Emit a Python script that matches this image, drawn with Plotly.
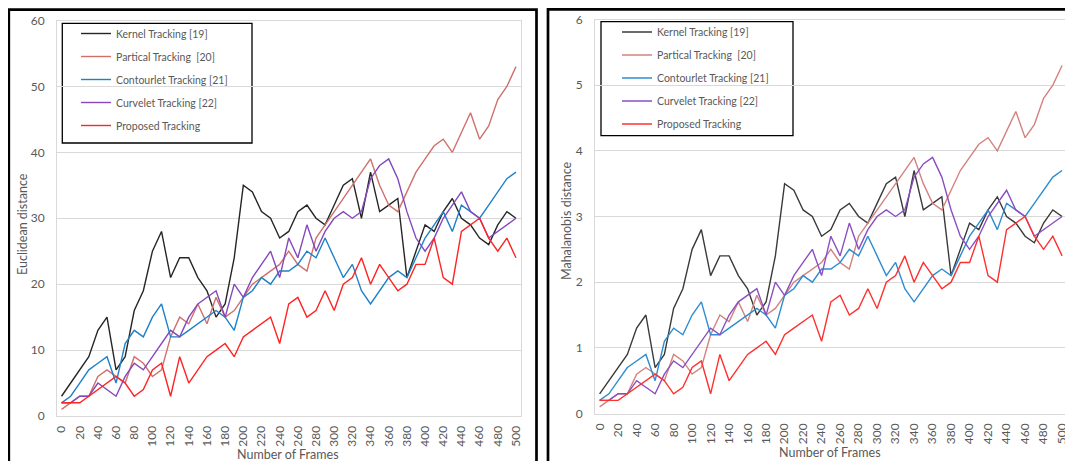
import plotly.graph_objects as go

# The page body has an 8px default margin; the figure is sized to fill the rest of the window.
OFF = 8
W, H = 1073 - OFF, 461 - OFF

frames = list(range(0, 501, 10))
series_names = ["Kernel Tracking [19]", "Partical Tracking  [20]", "Contourlet Tracking [21]",
                "Curvelet Tracking [22]", "Proposed Tracking"]

# Euclidean distance (left panel)
kernel_e = [3, 5, 7, 9, 13, 15, 7, 9, 16, 19, 25, 28, 21, 24, 24, 21, 19, 15, 17, 24,
            35, 34, 31, 30, 27, 28, 31, 32, 30, 29, 32, 35, 36, 30, 37, 31, 32, 33, 21, 25,
            29, 28, 31, 33, 30, 29, 27, 26, 29, 31, 30]
partical_e = [1, 2, 3, 3, 6, 7, 6, 5, 9, 8, 6, 7, 12, 15, 14, 17, 14, 18, 15, 16,
              18, 20, 21, 22, 23, 25, 23, 22, 27, 29, 31, 33, 35, 37, 39, 35, 32, 31, 34, 37,
              39, 41, 42, 40, 43, 46, 42, 44, 48, 50, 53]
contourlet_e = [2, 3, 5, 7, 8, 9, 5, 11, 13, 12, 15, 17, 12, 12, 13, 14, 15, 16, 15, 13,
                18, 19, 21, 20, 22, 22, 23, 25, 24, 27, 24, 21, 23, 19, 17, 19, 21, 22, 21, 24,
                27, 29, 31, 28, 32, 31, 30, 32, 34, 36, 37]
curvelet_e = [2, 2, 3, 3, 5, 4, 3, 6, 8, 7, 9, 11, 13, 12, 15, 17, 18, 19, 15, 20,
              18, 21, 23, 25, 21, 27, 24, 29, 25, 28, 30, 31, 30, 31, 36, 38, 39, 36, 31, 27,
              25, 27, 30, 32, 34, 31, 30, 27, 28, 29, 30]
proposed_e = [2, 2, 2, 3, 4, 5, 6, 5, 3, 4, 7, 8, 3, 9, 5, 7, 9, 10, 11, 9,
              12, 13, 14, 15, 11, 17, 18, 15, 16, 19, 16, 20, 21, 24, 20, 23, 21, 19, 20, 23,
              23, 27, 21, 20, 28, 29, 30, 27, 25, 27, 24]

# Mahalanobis distance (right panel)
kernel_m = [0.3, 0.5, 0.7, 0.9, 1.3, 1.5, 0.7, 0.9, 1.6, 1.9, 2.5, 2.8, 2.1, 2.4, 2.4, 2.1, 1.9, 1.5, 1.7, 2.4,
            3.5, 3.4, 3.1, 3.0, 2.7, 2.8, 3.1, 3.2, 3.0, 2.9, 3.2, 3.5, 3.6, 3.0, 3.7, 3.1, 3.2, 3.3, 2.1, 2.5,
            2.9, 2.8, 3.1, 3.3, 3.0, 2.9, 2.7, 2.6, 2.9, 3.1, 3.0]
partical_m = [0.1, 0.2, 0.3, 0.3, 0.6, 0.7, 0.6, 0.5, 0.9, 0.8, 0.6, 0.7, 1.2, 1.5, 1.4, 1.7, 1.4, 1.8, 1.5, 1.6,
              1.8, 2.0, 2.1, 2.2, 2.3, 2.5, 2.3, 2.2, 2.7, 2.9, 3.1, 3.3, 3.5, 3.7, 3.9, 3.5, 3.2, 3.1, 3.4, 3.7,
              3.9, 4.1, 4.2, 4.0, 4.3, 4.6, 4.2, 4.4, 4.8, 5.0, 5.3]
contourlet_m = [0.2, 0.3, 0.5, 0.7, 0.8, 0.9, 0.5, 1.1, 1.3, 1.2, 1.5, 1.7, 1.2, 1.2, 1.3, 1.4, 1.5, 1.6, 1.5, 1.3,
                1.8, 1.9, 2.1, 2.0, 2.2, 2.2, 2.3, 2.5, 2.4, 2.7, 2.4, 2.1, 2.3, 1.9, 1.7, 1.9, 2.1, 2.2, 2.1, 2.4,
                2.7, 2.9, 3.1, 2.8, 3.2, 3.1, 3.0, 3.2, 3.4, 3.6, 3.7]
curvelet_m = [0.2, 0.2, 0.3, 0.3, 0.5, 0.4, 0.3, 0.6, 0.8, 0.7, 0.9, 1.1, 1.3, 1.2, 1.5, 1.7, 1.8, 1.9, 1.5, 2.0,
              1.8, 2.1, 2.3, 2.5, 2.1, 2.7, 2.4, 2.9, 2.5, 2.8, 3.0, 3.1, 3.0, 3.1, 3.6, 3.8, 3.9, 3.6, 3.1, 2.7,
              2.5, 2.7, 3.0, 3.2, 3.4, 3.1, 3.0, 2.7, 2.8, 2.9, 3.0]
proposed_m = [0.2, 0.2, 0.2, 0.3, 0.4, 0.5, 0.6, 0.5, 0.3, 0.4, 0.7, 0.8, 0.3, 0.9, 0.5, 0.7, 0.9, 1.0, 1.1, 0.9,
              1.2, 1.3, 1.4, 1.5, 1.1, 1.7, 1.8, 1.5, 1.6, 1.9, 1.6, 2.0, 2.1, 2.4, 2.0, 2.3, 2.1, 1.9, 2.0, 2.3,
              2.3, 2.7, 2.1, 2.0, 2.8, 2.9, 3.0, 2.7, 2.5, 2.7, 2.4]

colors_left = ["#262626", "#D0706C", "#1F80C8", "#8448BE", "#FF2424"]
colors_right = ["#3A3A3A", "#D4827F", "#2E8CD0", "#8A4FC2", "#FF3030"]

FONT = "Lato, Carlito, Calibri, 'Open Sans', sans-serif"
GREY = "#595959"


def px(x):
    """screen pixel x -> paper fraction"""
    return (x - OFF) / W


def py(y):
    """screen pixel y -> paper fraction"""
    return 1 - (y - OFF) / H


fig = go.Figure()

left_data = [kernel_e, partical_e, contourlet_e, curvelet_e, proposed_e]
right_data = [kernel_m, partical_m, contourlet_m, curvelet_m, proposed_m]

for i, (name, ys) in enumerate(zip(series_names, left_data)):
    fig.add_trace(go.Scatter(x=frames, y=ys, mode="lines", name=name,
                             line=dict(color=colors_left[i], width=1.4),
                             xaxis="x", yaxis="y", legend="legend", legendgroup=f"L{i}"))
for i, (name, ys) in enumerate(zip(series_names, right_data)):
    fig.add_trace(go.Scatter(x=frames, y=ys, mode="lines", name=name,
                             line=dict(color=colors_right[i], width=1.4),
                             xaxis="x2", yaxis="y2", legend="legend2", legendgroup=f"R{i}"))

axis_common = dict(zeroline=False, showline=True, linecolor="#D9D9D9", linewidth=1, mirror=True,
                   automargin=False, tickfont=dict(family=FONT, size=12, color=GREY))
xaxis_common = dict(range=[-5, 505], dtick=20, tick0=0, tickangle=-90, showgrid=False,
                    ticks="", ticklabelstandoff=4, **axis_common)
yaxis_common = dict(showgrid=True, gridcolor="#D9D9D9", gridwidth=1, ticks="",
                    ticklabelstandoff=9, **axis_common)

legend_font = dict(family=FONT, size=10.5, color=GREY)

fig.update_layout(
    width=W, height=H,
    margin=dict(l=0, r=0, t=0, b=0),
    paper_bgcolor="white", plot_bgcolor="white",
    font=dict(family=FONT, color=GREY),
    xaxis=dict(domain=[px(57), px(520.5)], anchor="y", **xaxis_common),
    yaxis=dict(domain=[py(416), py(20.5)], range=[0, 60], dtick=10, anchor="x", **yaxis_common),
    xaxis2=dict(domain=[px(595), px(1066.7)], anchor="y2", **xaxis_common),
    yaxis2=dict(domain=[py(413.5), py(19.5)], range=[0, 6], dtick=1, anchor="x2", **yaxis_common),
    legend=dict(x=px(76), y=py(19), xanchor="left", yanchor="top", bgcolor="rgba(0,0,0,0)",
                borderwidth=0, tracegroupgap=4, font=legend_font),
    legend2=dict(x=px(617), y=py(17.5), xanchor="left", yanchor="top", bgcolor="rgba(0,0,0,0)",
                 borderwidth=0, tracegroupgap=4, font=legend_font),
    showlegend=True,
)

shapes = [
    # panel frames
    dict(type="rect", xref="paper", yref="paper", x0=px(8.8), x1=px(536.5), y0=py(480), y1=py(9.6),
         line=dict(color="black", width=2.7)),
    dict(type="rect", xref="paper", yref="paper", x0=px(548), x1=px(1090), y0=py(480), y1=py(9.4),
         line=dict(color="black", width=2.7)),
    # legend boxes
    dict(type="rect", xref="paper", yref="paper", x0=px(62.3), x1=px(252), y0=py(143), y1=py(23.3),
         line=dict(color="black", width=1.3), fillcolor="white", layer="below"),
    dict(type="rect", xref="paper", yref="paper", x0=px(601), x1=px(793), y0=py(135.7), y1=py(21.7),
         line=dict(color="black", width=1.3), fillcolor="white", layer="below"),
]
fig.update_layout(shapes=shapes)

title_font = dict(family=FONT, size=12.5, color=GREY)
fig.add_annotation(text="Euclidean distance", xref="paper", yref="paper", x=px(22), y=py(224),
                   textangle=-90, showarrow=False, font=title_font, xanchor="center", yanchor="middle")
fig.add_annotation(text="Mahalanobis distance", xref="paper", yref="paper", x=px(567), y=py(221),
                   textangle=-90, showarrow=False, font=title_font, xanchor="center", yanchor="middle")
fig.add_annotation(text="Number of Frames", xref="paper", yref="paper", x=px(288), y=py(454),
                   showarrow=False, font=title_font, xanchor="center", yanchor="middle")
fig.add_annotation(text="Number of Frames", xref="paper", yref="paper", x=px(830), y=py(452),
                   showarrow=False, font=title_font, xanchor="center", yanchor="middle")

fig.write_html("out.html")
